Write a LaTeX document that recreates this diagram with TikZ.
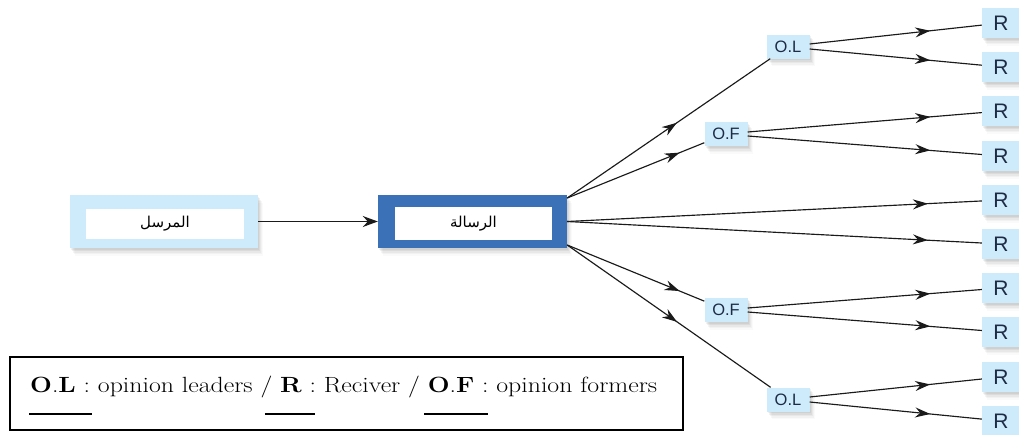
\documentclass[tikz,border=0pt]{standalone}
\usepackage{fontspec}
\setmainfont{Liberation Serif}
\newfontfamily\keyfont{Latin Modern Roman}
\newfontfamily\labelfont{Liberation Sans}
\newfontfamily\arabicfont[Script=Arabic]{DejaVu Sans}
\TeXXeTstate=1
\usetikzlibrary{arrows.meta,decorations.markings}

\definecolor{paleblue}{HTML}{CDEBFA}
\definecolor{deepblue}{HTML}{3B71B7}
\definecolor{labelink}{HTML}{1E2B45}
\definecolor{wire}{HTML}{1A1A1A}

% underline drawn well below the baseline: #1 = shift, #2 = length, #3 = text
\newcommand\keyul[3]{\rlap{\kern#1\rule[-23pt]{#2}{1.7pt}}#3}

\tikzset{
  % soft shadow built from stacked translucent copies, offset down and right
  softshadow/.style={
    preaction={fill=black, opacity=0.05, transform canvas={shift={(1pt,-1.5pt)}}},
    preaction={fill=black, opacity=0.05, transform canvas={shift={(2pt,-3pt)}}},
    preaction={fill=black, opacity=0.04, transform canvas={shift={(3pt,-4.5pt)}}},
    preaction={fill=black, opacity=0.03, transform canvas={shift={(4pt,-6pt)}}},
    preaction={fill=black, opacity=0.02, transform canvas={shift={(5pt,-7.5pt)}}}},
  tag/.style={fill=paleblue, text=labelink, inner sep=0pt,
      minimum width=43pt, minimum height=24pt, softshadow,
      font=\labelfont\fontsize{16.5}{16.5}\selectfont},
  recv/.style={fill=paleblue, text=labelink, inner sep=0pt,
      minimum width=38pt, minimum height=30pt, softshadow,
      font=\labelfont\fontsize{21}{21}\selectfont},
  flow/.style={draw=wire, line width=1.15pt},
  midarrow/.style={postaction={decorate}, decoration={markings,
      mark=at position #1 with {\arrow{Stealth[length=15pt,width=10pt,inset=5pt]}}}},
  arabiclabel/.style={font=\arabicfont\fontsize{15}{15}\selectfont},
}

\begin{document}
\begin{tikzpicture}[x=1pt,y=-1pt]
\useasboundingbox (0,0) rectangle (1019,434);
\fill[white] (0,0) rectangle (1019,434);

% sender
\node[fill=paleblue, minimum width=188pt, minimum height=53pt, inner sep=0pt, softshadow] (snd) at (164,221.5) {};
\node[fill=white, minimum width=158pt, minimum height=30pt, inner sep=0pt, arabiclabel] (sndtxt) at (165,224) {\beginR المرسل\endR};

% message
\node[fill=deepblue, minimum width=189pt, minimum height=53pt, inner sep=0pt, softshadow] (msg) at (472.5,221.5) {};
\node[fill=white, minimum width=157pt, minimum height=33pt, inner sep=0pt, arabiclabel] (msgtxt) at (473.5,223.5) {\beginR الرسالة\endR};

\draw[flow, -{Stealth[length=15pt,width=11pt,inset=5pt]}] (snd) -- (msg);

% intermediaries
\node[tag] (ol1) at (788,46.5) {O.L};
\node[tag] (of1) at (726,134) {O.F};
\node[tag] (of2) at (726,310) {O.F};
\node[tag] (ol2) at (788,399.5) {O.L};

% receivers
\foreach \i/\y in {1/23,2/67,3/111,4/156,5/200,6/244,7/288,8/332,9/377,10/421}
  \node[recv] (r\i) at (1001,\y) {R};

% message to intermediaries and direct receivers
\draw[flow, midarrow=0.54] ([yshift=23.5pt]msg.east) -- (ol1);
\draw[flow, midarrow=0.82] ([yshift=23.5pt]msg.east) -- (of1);
\draw[flow, midarrow=0.87] (msg.east) -- (r5);
\draw[flow, midarrow=0.87] (msg.east) -- (r6);
\draw[flow, midarrow=0.82] ([yshift=-23.5pt]msg.east) -- (of2);
\draw[flow, midarrow=0.54] ([yshift=-23.5pt]msg.east) -- (ol2);

% intermediaries to receivers
\draw[flow, midarrow=0.7] ([yshift=2.5pt]ol1.east) -- (r1);
\draw[flow, midarrow=0.7] ([yshift=-2.5pt]ol1.east) -- (r2);
\draw[flow, midarrow=0.78] ([yshift=2pt]of1.east) -- (r3);
\draw[flow, midarrow=0.78] ([yshift=-2pt]of1.east) -- (r4);
\draw[flow, midarrow=0.78] ([yshift=2pt]of2.east) -- (r7);
\draw[flow, midarrow=0.78] ([yshift=-2pt]of2.east) -- (r8);
\draw[flow, midarrow=0.7] ([yshift=2.5pt]ol2.east) -- (r9);
\draw[flow, midarrow=0.7] ([yshift=-2.5pt]ol2.east) -- (r10);

% key
\node[draw=black, line width=1.6pt, minimum width=673pt, minimum height=73pt, inner sep=0pt] (key) at (346.5,393.5) {};
\node[anchor=base west, inner sep=0pt, font=\keyfont\fontsize{22}{26}\selectfont] (keytxt) at (30,392)
  {\resizebox{627pt}{\height}{\keyul{-1pt}{54pt}{\textbf{O}.\textbf{L}} : opinion leaders / \keyul{-13pt}{43pt}{\textbf{R}} : Reciver / \keyul{-3pt}{54pt}{\textbf{O}.\textbf{F}} : opinion formers}};
\end{tikzpicture}
\end{document}
